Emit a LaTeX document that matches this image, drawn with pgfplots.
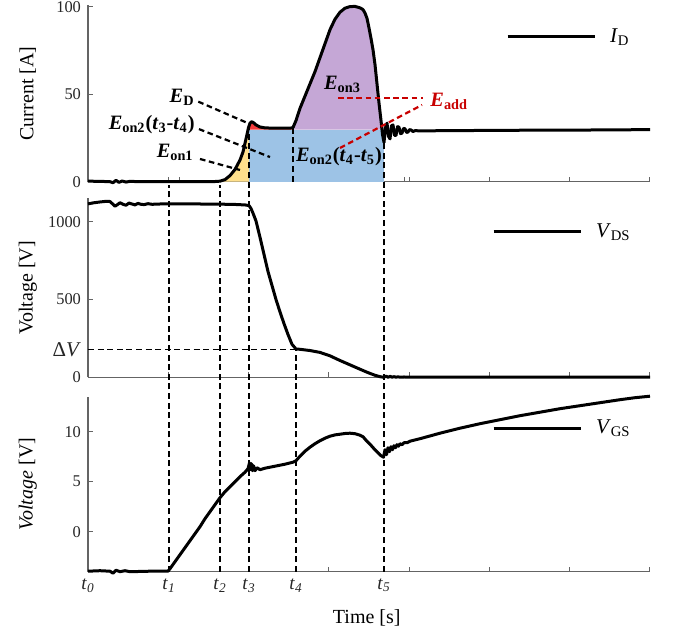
\documentclass[border=0pt]{standalone}
\usepackage{fontspec}
\setmainfont{Liberation Serif}
\usepackage{pgfplots}
\pgfplotsset{compat=1.18}
\definecolor{cYel}{RGB}{255,224,140}
\definecolor{cBlu}{RGB}{157,195,230}
\definecolor{cPur}{RGB}{197,167,214}
\definecolor{cRed}{RGB}{245,60,60}
\definecolor{dRed}{RGB}{200,0,0}
\definecolor{axgray}{RGB}{100,100,100}
\pgfplotsset{myax/.style={
  scale only axis, width=281pt, xmin=88, xmax=650, anchor=south west,
  axis lines*=left, axis line style={line width=0.6pt, color=axgray},
  tick align=inside, major tick length=2.5pt, tick style={line width=0.5pt, color=axgray},
  xtick={168.3,248.6,328.9,409.1,489.4,569.7,649.9}, xticklabels={},
  clip=false,
  /pgf/number format/assume math mode=true,
  /pgf/number format/1000 sep={},
  tick label style={font=\fontsize{8.2}{9}\selectfont, text=black!85},
  label style={font=\fontsize{10.5}{12}\selectfont},
  every axis y label/.style={at={(axis description cs:-0.107,0.5)}, rotate=90, anchor=center},
  legend cell align=left,
  legend image code/.code={\draw[#1] (0pt,0pt) -- (43.5pt,0pt); \path (50.5pt,0pt);},
  legend style={draw=none, fill=none, inner sep=0pt, outer sep=0pt, anchor=west,
    nodes={inner sep=0pt, font=\fontsize{10.5}{12}\selectfont}},
}}
\tikzset{curve/.style={black, line width=1.5pt, line join=round},
  vdash/.style={black, line width=0.65pt, dash pattern=on 3pt off 1.8pt},
  lead/.style={black, line width=1.1pt, dash pattern=on 2.8pt off 1.8pt},
  rlead/.style={dRed, line width=1.1pt, dash pattern=on 2.8pt off 1.8pt},
  ann/.style={inner sep=0pt, font=\bfseries\fontsize{10.2}{12}\selectfont}}
\begin{document}
\begin{tikzpicture}
\path[use as bounding box] (0pt,0pt) rectangle (336.5pt,318.5pt);
% ---------------- top: I_D
\begin{axis}[myax, at={(44pt,227.65pt)}, height=88.25pt, ymin=0, ymax=101,
  ytick={0,50,100}, ylabel={Current [A]},
  extra x ticks={179,253,404}, extra x tick labels={},
  legend style={at={(axis cs:506,82.8)}}]
% yellow E_on1
\addplot[fill=cYel, draw=none, forget plot] coordinates {
(220,0) (220,0.3) (225,1.2) (230,3.5) (235,7) (240,12.4) (243,17) (245,22) (247,27) (248.5,31) (249,32) (249,0)} -- cycle;
% blue E_on2
\addplot[fill=cBlu, draw=none, forget plot] coordinates {
(249,0) (249,29.8) (384,29.8) (384,0)} -- cycle;
% red E_D
\addplot[fill=cRed, draw=none, forget plot] coordinates {
(249,29.8) (249,32) (250,33.5) (251.5,34.3) (253,34) (256,32.5) (260,31.3) (265,30.8) (275,30.6) (290,30.6) (293,30.8) (293,29.8)} -- cycle;
% purple E_on3
\addplot[fill=cPur, draw=none, forget plot] coordinates {
(293,29.8) (293,31) (296,35) (300,42) (305,49) (310,56) (315,63) (320,71) (325,79) (330,87) (335,93) (340,97) (345,99.3) (350,100.2) (355,100.3) (360,99.5) (363,98.5) (365,96.5) (367,93.5) (369,88) (371,82) (373,75.5) (375,67) (377,56) (379,45) (381,35) (382,29.8)} -- cycle;
\addplot[vdash, forget plot] coordinates {(293,0) (293,30.6)};
\addplot[curve] coordinates {
(88,0.3) (100,0.2) (110,0) (113,-0.6) (116,0.8) (119,-0.4) (122,0.4) (126,-0.2) (130,0.2) (140,0) (160,0.1) (180,0) (200,0) (215,0.1)
(220,0.3) (225,1.2) (230,3.5) (235,7) (240,12.4) (243,17) (245,22) (247,27) (248.5,31) (250,33.5) (251.5,34.3) (253,34) (256,32.5) (260,31.3) (265,30.8) (275,30.6) (290,30.6)
(293,31) (296,35) (300,42) (305,49) (310,56) (315,63) (320,71) (325,79) (330,87) (335,93) (340,97) (345,99.3) (350,100.2) (355,100.3) (360,99.5) (363,98.5) (365,96.5) (367,93.5) (369,88) (371,82) (373,75.5) (375,67) (377,56) (379,45) (381,35) (382.5,27) (384,22.5)
(385.5,31) (387,33.5) (388.5,26) (390,24.5) (391.5,32) (393,32.5) (394.5,26.5) (396,26.5) (397.5,31.5) (399,31.2) (400.5,27.5) (402,27.8) (403.5,30.5) (405,30.3) (406.5,28.2) (408,28.4) (409.5,29.8) (411,29.6) (413,28.7) (415,29.2) (420,29.1) (450,29.2) (500,29.4) (550,29.5) (600,29.6) (650,29.8)};
\addlegendentry{\textit{I}\textsubscript{D}}
% annotations
\node[ann, anchor=base east] at (axis cs:195,45.5) {\textit{E}\textsubscript{D}};
\draw[lead] (axis cs:198.3,45.8) -- (axis cs:248.3,33.4);
\node[ann, anchor=base east] at (axis cs:195,29.6) {\textit{E}\textsubscript{on2}(\textit{t}\textsubscript{3}-\textit{t}\textsubscript{4})};
\draw[lead] (axis cs:199,30.1) -- (axis cs:270,14.1);
\node[ann, anchor=base east] at (axis cs:194,14.0) {\textit{E}\textsubscript{on1}};
\draw[lead] (axis cs:200,13.0) -- (axis cs:240,6.7);
\node[ann, anchor=base] at (axis cs:342.5,52.5) {\textit{E}\textsubscript{on3}};
\node[ann, anchor=base] at (axis cs:339,11.4) {\textit{E}\textsubscript{on2}(\textit{t}\textsubscript{4}-\textit{t}\textsubscript{5})};
\node[ann, anchor=base west, text=dRed] at (axis cs:430,42.9) {\textit{E}\textsubscript{add}};
\draw[rlead] (axis cs:338,47.9) -- (axis cs:423,47.9);
\draw[rlead] (axis cs:340,19.3) -- (axis cs:422,43.9);
\end{axis}
% ---------------- middle: V_DS
\begin{axis}[myax, at={(44pt,129.85pt)}, height=89.45pt, ymin=0, ymax=1150,
  ytick={0,500,1000}, ylabel={Voltage [V]},
  extra y ticks={180}, extra y tick labels={Δ\textit{V}},
  extra y tick style={tick label style={font=\fontsize{10.5}{12}\selectfont}},
  legend style={at={(axis cs:492,934)}}]
\addplot[vdash, forget plot] coordinates {(88,180) (296,180)};
\addplot[curve] coordinates {
(88,1115) (94,1122) (100,1127) (106,1131) (110,1130) (113,1112) (115,1100) (117,1108) (120,1122) (123,1112) (126,1106) (129,1120) (132,1114) (135,1108) (138,1118) (141,1112) (144,1110) (148,1116) (152,1112) (160,1114) (180,1114) (200,1114) (220,1113) (235,1111) (245,1108)
(249,1104) (251,1085) (253,1055) (256,1005) (260,900) (264,790) (268,680) (272,590) (276,500) (280,420) (284,345) (288,275) (292,212) (296,182)
(300,180) (310,172) (320,160) (330,138) (340,108) (350,80) (360,52) (368,30) (375,13) (380,4) (384,0) (386,8) (388,0) (390,6) (392,1) (394,4) (396,1) (398,3) (400,1) (404,2) (410,1) (420,0.5) (650,0.5)};
\addlegendentry{\textit{V}\textsubscript{DS}}
\end{axis}
% ---------------- bottom: V_GS
\begin{axis}[myax, at={(44pt,32.65pt)}, height=87.5pt, ymin=-4, ymax=13.5,
  ytick={0,5,10}, ylabel={\textit{Voltage} [V]},
  xlabel={Time [s]},
  every axis x label/.style={at={(axis description cs:0.496,-0.265)}, anchor=center},
  extra x ticks={88,169,220,249,296,384},
  extra x tick labels={\textit{t}\textsubscript{\textit{0}},\textit{t}\textsubscript{\textit{1}},\textit{t}\textsubscript{\textit{2}},\textit{t}\textsubscript{\textit{3}},\textit{t}\textsubscript{\textit{4}},\textit{t}\textsubscript{\textit{5}}},
  extra x tick style={tick style={draw=none}, tick label style={font=\fontsize{9.5}{10}\selectfont}},
  legend style={at={(axis cs:492,10.37)}}]
\addplot[vdash, forget plot] coordinates {(169,-4) (169,34.67)};
\addplot[vdash, forget plot] coordinates {(220,-4) (220,34.67)};
\addplot[vdash, forget plot] coordinates {(249,-4) (249,40.77)};
\addplot[vdash, forget plot] coordinates {(296,-4) (296,18.27)};
\addplot[vdash, forget plot] coordinates {(384,-4) (384,39.67)};
\addplot[curve] coordinates {
(88,-3.95) (100,-3.9) (110,-3.95) (113,-4.15) (116,-3.85) (120,-4.0) (125,-3.9) (130,-4.0) (150,-3.95) (168,-3.95)
(170,-3.7) (175,-3.0) (180,-2.3) (185,-1.6) (190,-0.9) (195,-0.2) (200,0.5) (205,1.3) (210,2.0) (215,2.7) (220,3.4) (225,4.0) (230,4.5) (235,5.0) (240,5.5) (245,5.95) (248,6.3)
(249.5,6.9) (250.5,6.2) (251.5,6.8) (252.5,6.1) (253.5,6.6) (255,6.1) (257,6.4) (260,6.2) (265,6.35) (275,6.55) (285,6.75) (293,6.95) (296,7.1)
(300,7.55) (305,8.05) (310,8.45) (315,8.8) (320,9.1) (325,9.35) (330,9.55) (335,9.68) (340,9.75) (345,9.82) (350,9.85) (355,9.8) (360,9.65) (363,9.5) (366,9.15) (370,8.75) (374,8.3) (378,7.9) (381,7.6) (383.5,7.45)
(385,8.2) (386.5,7.7) (388,8.4) (389.5,8.0) (391,8.5) (392.5,8.2) (394,8.6) (395.5,8.4) (397,8.7) (398.5,8.55) (400,8.8) (402,8.7) (404,8.9) (407,8.9) (410,9.05) (420,9.3) (440,9.85) (460,10.35) (480,10.8) (500,11.2) (520,11.6) (540,11.95) (560,12.3) (580,12.6) (600,12.9) (620,13.2) (635,13.4) (650,13.55)};
\addlegendentry{\textit{V}\textsubscript{GS}}
\end{axis}
\end{tikzpicture}
\end{document}
